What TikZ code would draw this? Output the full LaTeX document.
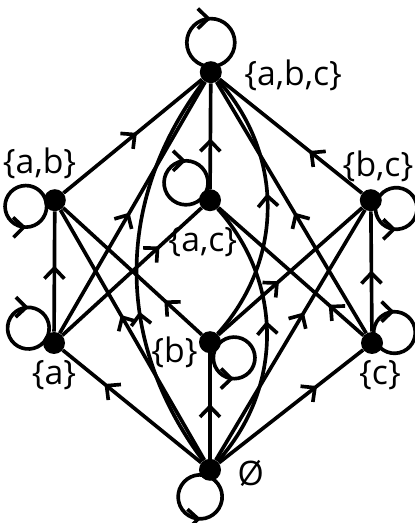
\documentclass[tikz,border=0pt]{standalone}
\usepackage{fontspec}
\setmainfont{Open Sans}
\usetikzlibrary{arrows.meta,positioning,calc,decorations.markings}

\begin{document}
\begin{tikzpicture}[
  node distance=3mm,
  dot/.style={circle, fill, inner sep=0pt, minimum size=5.5mm},
  lbl/.style={inner sep=0pt, font=\fontsize{24}{28}\selectfont},
  arr/.style={line width=2.6pt, postaction={decorate},
    decoration={markings, mark=at position #1 with {\arrow{Straight Barb[length=2.6mm, width=5mm]}}}},
  arr/.default=0.5
]
  \useasboundingbox (0,0) rectangle (10.375,13.075);

  % the eight subsets
  \node[dot] (t)  at (5.27,11.27) {};
  \node[dot] (ab) at (1.37,8.07) {};
  \node[dot] (ac) at (5.25,8.07) {};
  \node[dot] (bc) at (9.27,8.07) {};
  \node[dot] (a)  at (1.35,4.50) {};
  \node[dot] (b)  at (5.25,4.52) {};
  \node[dot] (c)  at (9.30,4.50) {};
  \node[dot] (e)  at (5.25,1.33) {};

  \node[lbl, right=0.55cm of t, yshift=-0.08cm] (tl) {\{a,b,c\}};
  \node[lbl, above=0.25cm of ab, xshift=-0.38cm] (abl) {\{a,b\}};
  \node[lbl, above=0.18cm of bc, xshift=0.18cm] (bcl) {\{b,c\}};
  \node[lbl, below=0.4cm of ac, xshift=-0.18cm] (acl) {\{a,c\}};
  \node[lbl, below=0.15cm of a] (al) {\{a\}};
  \node[lbl, left=0.02cm of b, yshift=-0.25cm] (bl) {\{b\}};
  \node[lbl, below=0.15cm of c, xshift=0.2cm] (cl) {\{c\}};
  \node[lbl, right=0.4cm of e, yshift=-0.1cm] (el) {Ø};

  % inclusions
  \draw[arr=0.7]  (e) -- (a);
  \draw[arr=0.52] (e) -- (b);
  \draw[arr=0.68] (e) -- (c);
  \draw[arr=0.58] (e) -- (ab);
  \draw[arr=0.59] (e) -- (bc);
  \draw[arr=0.55] (e) to[bend right=42] (ac);
  \draw[arr=0.4]  (e) to[bend left=37] (t);
  \draw[arr=0.55] (a) -- (ab);
  \draw[arr=0.7]  (a) -- (ac);
  \draw[arr=0.48] (a) -- (t);
  \draw[arr=0.27] (b) -- (ab);
  \draw[arr=0.42] (b) -- (bc);
  \draw[arr=0.55] (b) to[bend right=42] (t);
  \draw[arr=0.24] (c) -- (ac);
  \draw[arr=0.51] (c) -- (bc);
  \draw[arr=0.48] (c) -- (t);
  \draw[arr=0.53] (ab) -- (t);
  \draw[arr=0.48] (ac) -- (t);
  \draw[arr=0.37] (bc) -- (t);

  % loops
  \draw[arr=0.5]  ($(t)+(90:0.14)$)   arc[start angle=270, delta angle=-360, radius=0.6];
  \draw[arr=0.72] ($(ab)+(192:0.22)$) arc[start angle=12,  delta angle=360,  radius=0.52];
  \draw[arr=0.65] ($(ac)+(144:0.19)$) arc[start angle=324, delta angle=-360, radius=0.55];
  \draw[arr=0.3]  ($(bc)+(-18:0.15)$) arc[start angle=162, delta angle=360,  radius=0.52];
  \draw[arr=0.67] ($(a)+(150:0.22)$)  arc[start angle=330, delta angle=-360, radius=0.52];
  \draw[arr=0.34] ($(b)+(-33:0.2)$)   arc[start angle=147, delta angle=360,  radius=0.52];
  \draw[arr=0.32] ($(c)+(25:0.1)$)    arc[start angle=205, delta angle=-360, radius=0.52];
  \draw[arr=0.56] ($(e)+(250:0.17)$)  arc[start angle=70,  delta angle=360,  radius=0.55];
\end{tikzpicture}
\end{document}
